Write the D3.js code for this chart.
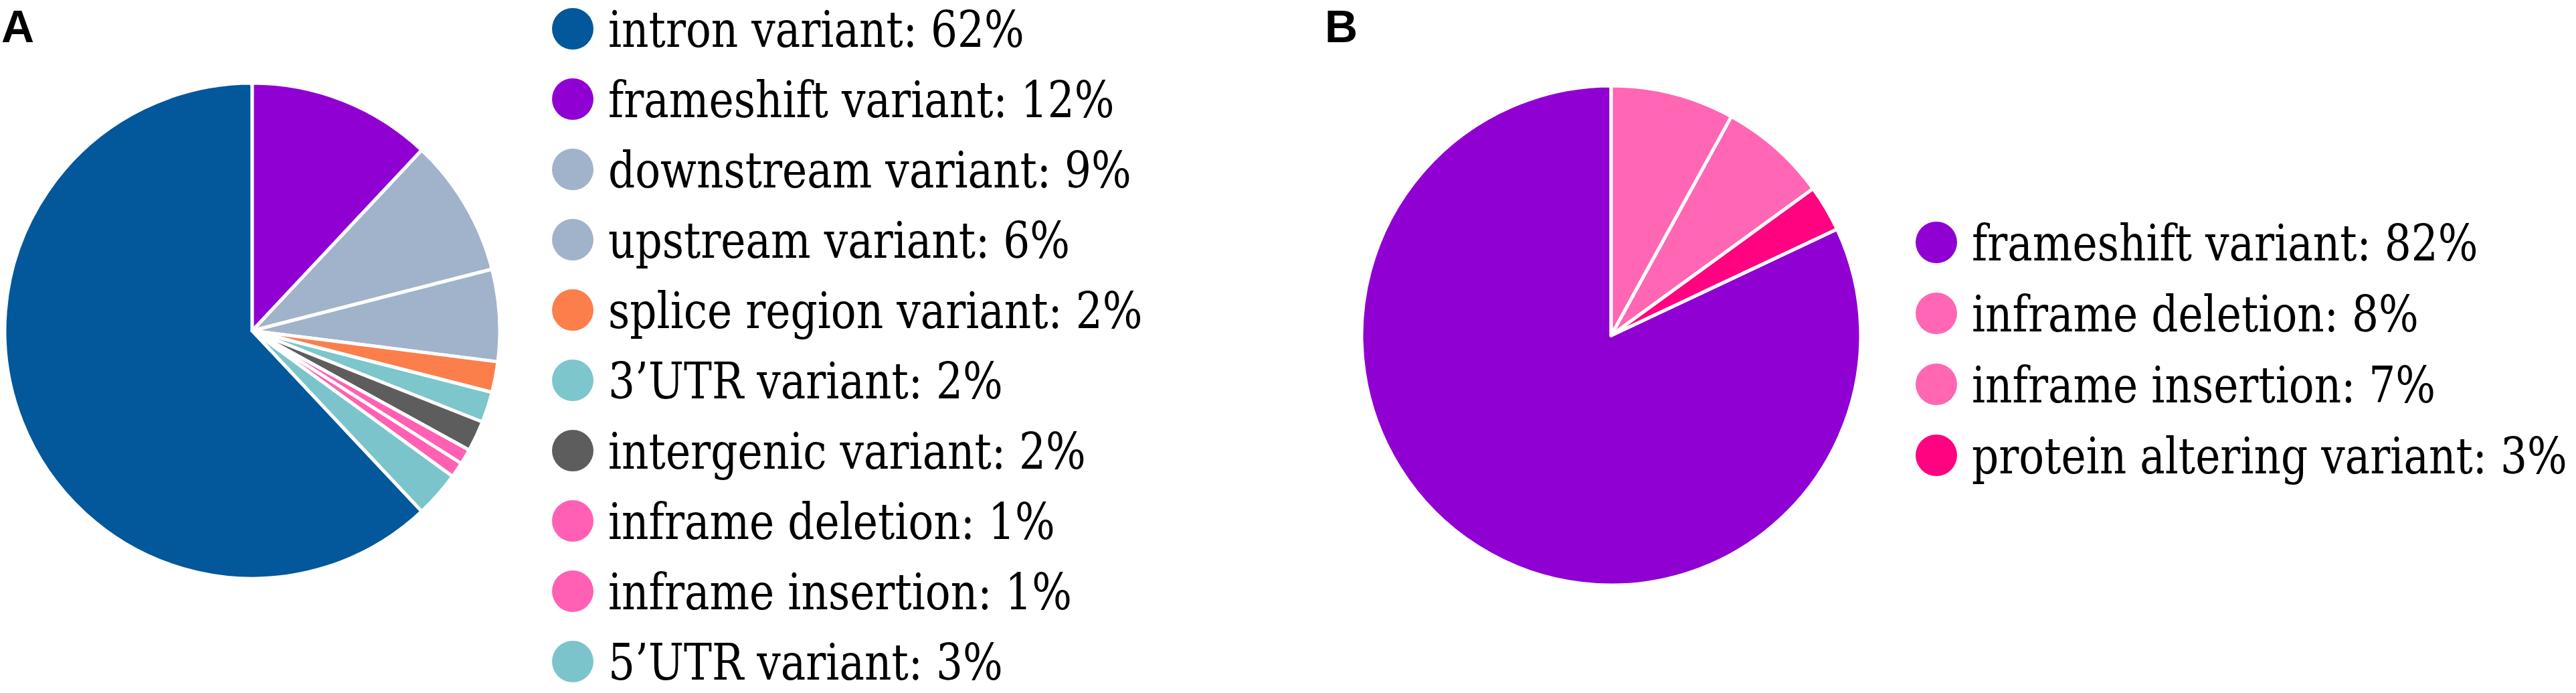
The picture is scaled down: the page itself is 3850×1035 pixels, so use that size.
<!DOCTYPE html>
<html>
<head>
<meta charset="utf-8">
<script src="https://cdn.jsdelivr.net/npm/d3@7"></script>
<style>
  body { margin: 0; background: #ffffff; }
  svg { display: block; }
  .legend text { font-family: "DejaVu Serif", serif; }
  .panel { font-family: "Liberation Sans", Arial, Helvetica, sans-serif; font-weight: bold; }
</style>
</head>
<body>
<div id="chart"></div>
<script>
// Panel A data (legend order)
var labelsA = ["intron variant", "frameshift variant", "downstream variant", "upstream variant",
               "splice region variant", "3\u2019UTR variant", "intergenic variant",
               "inframe deletion", "inframe insertion", "5\u2019UTR variant"];
var valuesA = [62, 12, 9, 6, 2, 2, 2, 1, 1, 3];
var colorsA = ["#03579b", "#9000d2", "#a1b3cb", "#a1b3cb", "#fc7e4a",
               "#7cc6cc", "#5d5d5d", "#ff60b4", "#ff60b4", "#7cc4cb"];

// Panel B data (legend order)
var labelsB = ["frameshift variant", "inframe deletion", "inframe insertion", "protein altering variant"];
var valuesB = [82, 8, 7, 3];
var colorsB = ["#9000d2", "#ff66b3", "#ff66b3", "#ff0380"];

var width = 3850, height = 1035;

var svg = d3.select("#chart").append("svg")
    .attr("width", width)
    .attr("height", height);

svg.append("rect").attr("width", width).attr("height", height).attr("fill", "#ffffff");

// draws one pie; first slice ends at 12 o'clock, the rest go clockwise from there
function drawPie(values, colors, cx, cy, r) {
  var total = d3.sum(values);
  var start = -2 * Math.PI * values[0] / total;
  var pie = d3.pie().sort(null)
      .startAngle(start)
      .endAngle(start + 2 * Math.PI);
  var arc = d3.arc().innerRadius(0).outerRadius(r);

  var g = svg.append("g").attr("transform", "translate(" + cx + "," + cy + ")");
  g.selectAll("path")
    .data(pie(values))
    .enter()
    .append("path")
      .attr("d", arc)
      .attr("fill", function(d, i) { return colors[i]; })
      .attr("stroke", "#ffffff")
      .attr("stroke-width", 5)
      .attr("stroke-linejoin", "round");
}

function drawLegend(labels, values, colors, x, y0, step) {
  var y = d3.scaleLinear().domain([0, 1]).range([y0, y0 + step]);
  var g = svg.append("g").attr("class", "legend");
  var rows = g.selectAll("g.row")
    .data(labels)
    .enter()
    .append("g")
      .attr("class", "row")
      .attr("transform", function(d, i) { return "translate(" + x + "," + y(i) + ")"; });
  rows.append("circle")
    .attr("r", 31)
    .attr("fill", function(d, i) { return colors[i]; });
  // serif face is wider than Times, so squeeze it a bit
  rows.append("text")
    .attr("transform", "translate(53,27) scale(0.85,1)")
    .attr("font-size", 74)
    .attr("fill", "#000000")
    .text(function(d, i) { return d + ": " + values[i] + "%"; });
}

drawPie(valuesA, colorsA, 377, 494, 370);
drawLegend(labelsA, valuesA, colorsA, 856, 43, 105);

drawPie(valuesB, colorsB, 2408, 501, 373);
drawLegend(labelsB, valuesB, colorsB, 2894, 362, 106);

// panel letters
svg.append("text")
  .attr("class", "panel")
  .attr("x", 2).attr("y", 63)
  .attr("font-size", 68)
  .text("A");
svg.append("text")
  .attr("class", "panel")
  .attr("x", 1980).attr("y", 63)
  .attr("font-size", 68)
  .text("B");
</script>
</body>
</html>
